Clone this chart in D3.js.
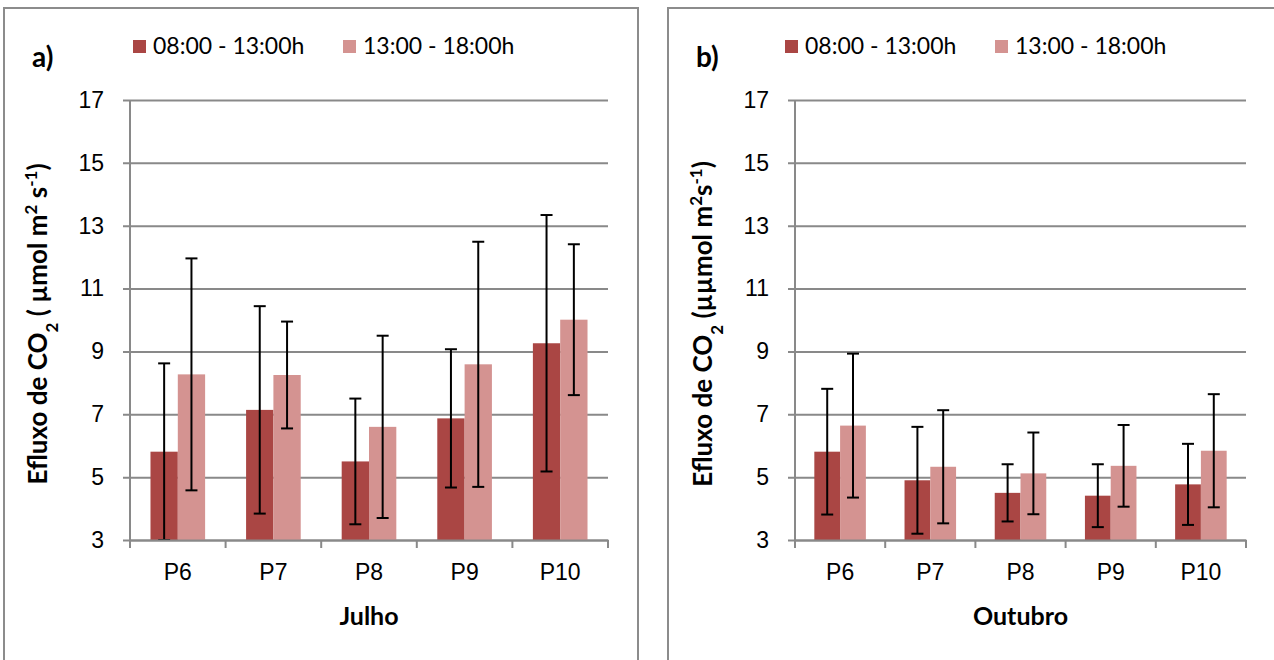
<!DOCTYPE html>
<html>
<head>
<meta charset="utf-8">
<script src="https://cdn.jsdelivr.net/npm/d3@7"></script>
<style>
    body { margin: 0; background: #ffffff; }
    svg { display: block; font-family: Lato, "Liberation Sans", sans-serif; }
</style>
</head>
<body>
<svg id="chart" width="1274" height="660"></svg>
<script>
// categories and series
const categories = ["P6", "P7", "P8", "P9", "P10"];
const seriesNames = ["08:00 - 13:00h", "13:00 - 18:00h"];
const yTicks = [3, 5, 7, 9, 11, 13, 15, 17];

// Julho (panel a) - means and error bar half-lengths
const julhoMorning = [5.81, 7.14, 5.50, 6.87, 9.26];
const julhoAfternoon = [8.27, 8.25, 6.60, 8.59, 10.01];
const julhoMorningErr = [2.81, 3.30, 2.00, 2.20, 4.08];
const julhoAfternoonErr = [3.69, 1.70, 2.90, 3.90, 2.40];

// Outubro (panel b)
const outubroMorning = [5.81, 4.90, 4.50, 4.41, 4.77];
const outubroAfternoon = [6.64, 5.33, 5.12, 5.36, 5.84];
const outubroMorningErr = [2.00, 1.70, 0.91, 1.00, 1.29];
const outubroAfternoonErr = [2.29, 1.80, 1.30, 1.30, 1.80];

const colors = ["#aa4644", "#d49391"];
const gridColor = "#898989";

const svg = d3.select("#chart");

function drawPanel(cfg) {
    const g = svg.append("g");

    // panel frame
    g.append("rect")
        .attr("x", cfg.frameX).attr("y", 8)
        .attr("width", cfg.frameW).attr("height", 700)
        .attr("fill", "none")
        .attr("stroke", "#8c8c8c")
        .attr("stroke-width", 2);

    const x = d3.scaleBand()
        .domain(categories)
        .range([cfg.left, cfg.right])
        .paddingInner(0).paddingOuter(0);

    const y = d3.scaleLinear()
        .domain([3, 17])
        .range([540, 100]);

    // bar width follows a 150% gap, two bars per category
    const barW = x.bandwidth() / 3.5;
    const groupOffset = (x.bandwidth() - 2 * barW) / 2;

    // gridlines + y axis
    const yAxis = d3.axisLeft(y)
        .tickValues(yTicks)
        .tickSize(-(cfg.right - cfg.left))
        .tickPadding(26)
        .tickFormat(d3.format("d"));

    const ya = g.append("g")
        .attr("transform", `translate(${cfg.left},0)`)
        .call(yAxis);
    ya.select(".domain").remove();
    ya.selectAll(".tick line")
        .attr("x1", -7)
        .attr("stroke", gridColor)
        .attr("stroke-width", 2);
    ya.selectAll(".tick text")
        .attr("font-size", 23)
        .attr("fill", "#000");

    g.append("line")
        .attr("x1", cfg.left).attr("x2", cfg.left)
        .attr("y1", 100).attr("y2", 540)
        .attr("stroke", gridColor).attr("stroke-width", 2);

    // bars
    const rows = categories.map((c, i) => ({
        cat: c,
        values: [cfg.morning[i], cfg.afternoon[i]],
        errs: [cfg.morningErr[i], cfg.afternoonErr[i]]
    }));

    const groups = g.selectAll(".cat")
        .data(rows)
        .join("g")
        .attr("class", "cat")
        .attr("transform", d => `translate(${x(d.cat) + groupOffset},0)`);

    groups.selectAll("rect")
        .data(d => d.values)
        .join("rect")
        .attr("x", (d, i) => i * barW)
        .attr("y", d => y(d))
        .attr("width", barW)
        .attr("height", d => y(3) - y(d))
        .attr("fill", (d, i) => colors[i]);

    // error bars
    const errData = rows.flatMap(r => r.values.map((v, i) => ({
        cx: x(r.cat) + groupOffset + i * barW + barW / 2,
        hi: v + r.errs[i],
        lo: Math.max(3, v - r.errs[i])
    })));

    const eb = g.append("g")
        .attr("stroke", "#000")
        .attr("stroke-width", 2);
    eb.selectAll(".stem").data(errData).join("line")
        .attr("x1", d => d.cx).attr("x2", d => d.cx)
        .attr("y1", d => y(d.hi)).attr("y2", d => y(d.lo));
    eb.selectAll(".capHi").data(errData).join("line")
        .attr("x1", d => d.cx - 6).attr("x2", d => d.cx + 6)
        .attr("y1", d => y(d.hi)).attr("y2", d => y(d.hi));
    eb.selectAll(".capLo").data(errData).join("line")
        .attr("x1", d => d.cx - 6).attr("x2", d => d.cx + 6)
        .attr("y1", d => y(d.lo)).attr("y2", d => y(d.lo));

    // x axis
    const xa = g.append("g")
        .attr("transform", "translate(0,540)")
        .call(d3.axisBottom(x).tickSize(0).tickPadding(24));
    xa.select(".domain")
        .attr("stroke", gridColor).attr("stroke-width", 2);
    xa.selectAll(".tick text")
        .attr("font-size", 23)
        .attr("fill", "#000");

    // category boundary ticks
    const bounds = categories.map(c => x(c)).concat([cfg.right]);
    g.selectAll(".bound")
        .data(bounds)
        .join("line")
        .attr("x1", d => d).attr("x2", d => d)
        .attr("y1", 540).attr("y2", 548)
        .attr("stroke", gridColor).attr("stroke-width", 2);

    // axis titles
    g.append("text")
        .attr("x", (cfg.left + cfg.right) / 2)
        .attr("y", 625)
        .attr("text-anchor", "middle")
        .attr("font-size", 25)
        .attr("font-weight", "bold")
        .text(cfg.xTitle);

    const yt = g.append("text")
        .attr("transform", `translate(${cfg.yTitleX},324) rotate(-90)`)
        .attr("text-anchor", "middle")
        .attr("font-size", 26)
        .attr("font-weight", "bold");
    cfg.yTitle.forEach(part => {
        const t = yt.append("tspan").text(part.text);
        if (part.shift) {
            t.attr("baseline-shift", part.shift).attr("font-size", 17);
        }
    });

    // panel letter
    g.append("text")
        .attr("x", cfg.frameX + 28)
        .attr("y", 67)
        .attr("font-size", 28)
        .attr("font-weight", "bold")
        .text(cfg.letter);

    // legend
    const lg = g.selectAll(".leg")
        .data(seriesNames)
        .join("g")
        .attr("transform", (d, i) => `translate(${cfg.legendX + i * 210},40)`);
    lg.append("rect")
        .attr("width", 13).attr("height", 13)
        .attr("fill", (d, i) => colors[i]);
    lg.append("text")
        .attr("x", 20).attr("y", 14)
        .attr("font-size", 23)
        .text(d => d);
}

drawPanel({
    frameX: 4, frameW: 634,
    left: 130, right: 608,
    morning: julhoMorning, afternoon: julhoAfternoon,
    morningErr: julhoMorningErr, afternoonErr: julhoAfternoonErr,
    xTitle: "Julho",
    yTitleX: 47,
    yTitle: [
        { text: "Efluxo de CO" }, { text: "2", shift: "sub" },
        { text: " ( µmol m" }, { text: "2", shift: "super" },
        { text: " s" }, { text: "-1", shift: "super" }, { text: ")" }
    ],
    letter: "a)",
    legendX: 133
});

drawPanel({
    frameX: 668, frameW: 620,
    left: 795, right: 1246,
    morning: outubroMorning, afternoon: outubroAfternoon,
    morningErr: outubroMorningErr, afternoonErr: outubroAfternoonErr,
    xTitle: "Outubro",
    yTitleX: 712,
    yTitle: [
        { text: "Efluxo de CO" }, { text: "2", shift: "sub" },
        { text: " (µµmol m" }, { text: "2", shift: "super" },
        { text: "s" }, { text: "-1", shift: "super" }, { text: ")" }
    ],
    letter: "b)",
    legendX: 785
});
</script>
</body>
</html>
